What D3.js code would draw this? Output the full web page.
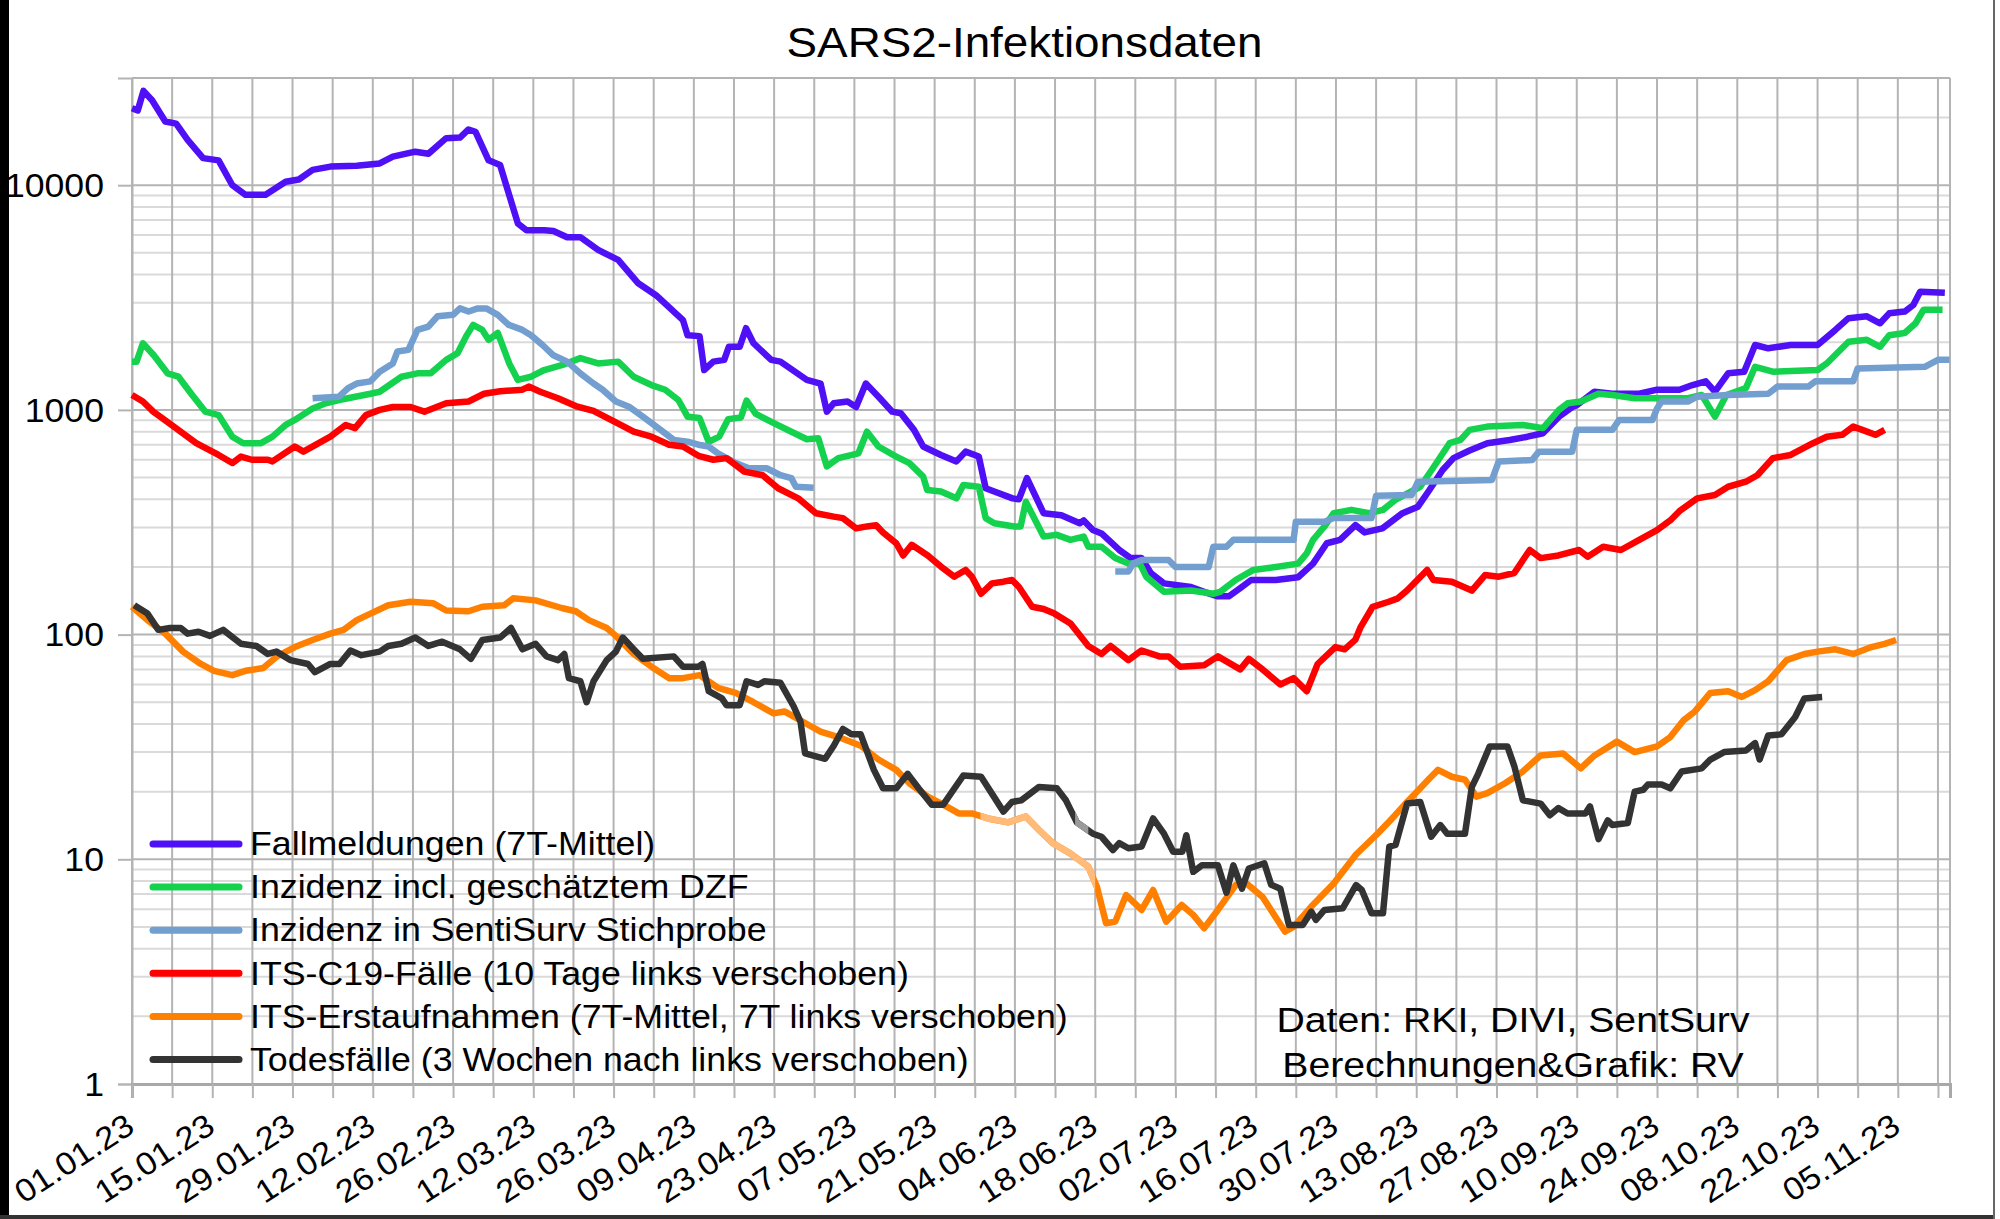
<!DOCTYPE html>
<html><head><meta charset="utf-8">
<script src="https://cdn.jsdelivr.net/npm/d3@7"></script>
<style>
body{margin:0;background:#fff}
svg{display:block}
text{font-family:"Liberation Sans",Arial,sans-serif;fill:#000}
</style>
</head><body>
<svg id="chart" width="2000" height="1219"></svg>
<script>
// ---------- DATA (day index from 01.01.23, value) ----------
const title = "SARS2-Infektionsdaten";
const seriesNames = [
  "Fallmeldungen (7T-Mittel)",
  "Inzidenz incl. geschätztem DZF",
  "Inzidenz in SentiSurv Stichprobe",
  "ITS-C19-Fälle (10 Tage links verschoben)",
  "ITS-Erstaufnahmen (7T-Mittel, 7T links verschoben)",
  "Todesfälle (3 Wochen nach links verschoben)"
];
const yTickValues = [1, 10, 100, 1000, 10000];
const xTickLabels = ["01.01.23","15.01.23","29.01.23","12.02.23","26.02.23","12.03.23","26.03.23","09.04.23","23.04.23","07.05.23","21.05.23","04.06.23","18.06.23","02.07.23","16.07.23","30.07.23","13.08.23","27.08.23","10.09.23","24.09.23","08.10.23","22.10.23","05.11.23"];
const sourceLines = ["Daten: RKI, DIVI, SentSurv", "Berechnungen&Grafik: RV"];

const fallmeldungen = [[0,22000],[1,21500],[2,26300],[3.5,23900],[5.8,19200],[7.7,18800],[9.7,15900],[12.4,13200],[15.1,12900],[17.5,10000],[19.8,9060],[23.3,9060],[26.8,10360],[29.1,10600],[31.5,11700],[34.6,12100],[39.2,12200],[43.2,12500],[45.5,13400],[49.4,14100],[51.7,13800],[54.8,16200],[57.2,16300],[58.7,17700],[59.9,17300],[62.2,12900],[64.2,12300],[67.3,6760],[68.8,6300],[71.9,6300],[73.5,6250],[75.9,5870],[78.2,5870],[81.3,5150],[84.8,4650],[88.3,3660],[91.4,3240],[96.1,2510],[96.9,2150],[99,2130],[99.8,1505],[101.4,1640],[103.3,1670],[104.1,1910],[106,1910],[107.1,2310],[108.4,1980],[111.5,1670],[113.1,1640],[117.7,1360],[120.1,1310],[121.2,982],[122.4,1070],[124.8,1090],[126.3,1030],[128,1310],[130.2,1145],[132.6,982],[134.1,966],[136.4,815],[138,687],[141.1,630],[143.8,590],[145.4,652],[147.7,620],[148.9,448],[150.4,433],[153.6,404],[154.7,400],[156.1,497],[159,347],[162.1,340],[165.3,313],[166,322],[167.6,292],[169.1,282],[172.2,238],[174.2,219],[176.1,219],[177.7,188],[180,169],[184.7,163],[187,155],[189.4,148],[191.3,148],[193.3,161],[195.2,175],[199.5,175],[203.4,180],[206,207],[208.4,255],[210.7,264],[213.4,307],[215,285],[218.1,297],[221.6,347],[224.3,371],[226.3,440],[228.6,540],[230.5,610],[233.3,660],[236.4,711],[240.3,735],[243.4,760],[246.1,787],[248.9,933],[251.2,1030],[252,1050],[255.1,1205],[258.2,1180],[262.9,1180],[266,1230],[269.9,1230],[272.2,1290],[274.5,1340],[276.1,1205],[278.4,1455],[281.2,1480],[283.1,1945],[285.4,1880],[289.3,1945],[294,1945],[297.1,2270],[299.4,2560],[302.6,2610],[304.9,2430],[306.5,2690],[309.2,2740],[310.7,2930],[311.9,3360],[316.2,3320]];

const inzidenzDZF = [[0,1640],[0.8,1640],[1.9,1980],[3.8,1750],[6.2,1455],[8.1,1405],[10.5,1165],[12.8,982],[15.1,948],[17.5,760],[19.4,711],[22.5,711],[24.5,760],[26.8,857],[28.4,902],[31.5,1015],[33.8,1070],[36.1,1107],[41.6,1180],[43.2,1205],[47,1405],[49.8,1455],[52.1,1455],[54.8,1670],[56.8,1790],[58.3,2130],[59.5,2390],[61.1,2270],[62.2,2050],[63.8,2200],[65.8,1610],[67.3,1360],[69.6,1405],[71.9,1505],[75.1,1585],[78.2,1700],[81.3,1610],[84.8,1640],[87.5,1405],[90.6,1290],[93,1230],[95.3,1107],[96.9,933],[99,920],[100.6,720],[102.4,760],[104,910],[106.2,925],[107.2,1100],[108.8,960],[112.3,865],[117.7,740],[119.7,748],[121.2,560],[123.2,610],[126.7,641],[128.2,800],[130.2,687],[133.3,620],[135.6,580],[138,505],[138.7,440],[141.1,433],[143.8,404],[145,463],[147.7,455],[148.9,330],[150.4,313],[153.9,303],[155,303],[155.9,390],[159,273],[161.3,278],[163.7,264],[166,273],[166.8,246],[169.1,246],[171.5,219],[173.8,207],[175.8,207],[176.9,181],[180,155],[184.7,157],[188.6,152],[189.8,155],[192.5,175],[195.6,194],[199.5,200],[203.4,207],[204.9,230],[206,264],[208,303],[209.6,347],[212.7,359],[215.8,347],[218.2,359],[220.5,400],[224.7,455],[227.1,560],[229.8,711],[231.7,735],[233.3,815],[236.4,843],[242.6,857],[246.1,830],[248.9,1000],[250.4,1070],[252.7,1090],[255.8,1180],[258.2,1165],[262.1,1127],[271.4,1127],[273.8,1165],[276.1,933],[278.1,1165],[281.5,1250],[283.1,1555],[286.2,1480],[294,1505],[295.6,1610],[299.4,2010],[302.6,2050],[304.9,1910],[306.5,2150],[309.2,2200],[311.1,2430],[312.5,2790],[315.8,2790]];

const sentiSurv = [[31.5,1127],[36.1,1145],[37.7,1250],[39.2,1310],[41.6,1340],[43.2,1480],[45.5,1610],[46.3,1820],[48.2,1850],[49.8,2270],[51.7,2350],[53.3,2610],[56,2650],[57.2,2830],[58.7,2740],[60.3,2830],[61.8,2830],[63.8,2650],[65.7,2390],[68.1,2270],[69.6,2150],[71.6,1945],[73.5,1750],[75.9,1640],[78.2,1455],[80.5,1310],[82.1,1230],[84.4,1090],[86.8,1030],[89.1,933],[92.2,815],[94.5,735],[96.9,722],[98.8,700],[100.6,687],[102.2,641],[105.3,580],[107.6,550],[110.7,550],[113.1,512],[115,497],[115.8,455],[118.9,450],
  [145, null],
  [171.5,191],[173.8,191],[174.6,207],[176.1,215],[180.8,215],[182,200],[187.8,200],[188.6,246],[190.9,246],[192.1,264],[202.6,264],[203,318],[208,318],[209.6,330],[216.2,330],[217,415],[223.2,418],[224.3,479],[237.2,488],[238.4,590],[244.2,598],[245.4,652],[251.2,652],[252,815],[258.2,815],[259.4,902],[265.2,902],[266,1015],[266.8,1090],[271.4,1090],[273,1145],[278.4,1165],[285.4,1180],[287,1270],[292.4,1270],[293.6,1340],[300.2,1340],[301,1530],[312.7,1555],[315,1670],[317,1670]];

const itsFaelle = [[0,1165],[1.9,1090],[3.7,982],[7.3,843],[11.2,711],[15.1,630],[17.5,580],[19,620],[20.9,600],[23.7,600],[24.5,590],[28.4,687],[29.9,652],[34.6,760],[37.3,857],[38.9,830],[40.8,948],[43.2,1000],[45.5,1030],[48.6,1030],[51,982],[54.8,1070],[58.7,1090],[61.4,1180],[64.2,1210],[68.1,1230],[69.2,1270],[71.2,1205],[74.3,1127],[77.4,1040],[80.5,990],[84.4,880],[87.5,800],[90.6,760],[93.7,700],[96.1,687],[98.8,625],[101.4,600],[103.7,610],[106.8,531],[110,512],[112.7,448],[116.2,404],[119.3,347],[122.4,335],[124,330],[126.3,297],[128.2,303],[129.8,307],[131,285],[133.3,255],[134.5,225],[136,251],[138.8,225],[141.5,197],[143.4,181],[145.4,194],[146.5,181],[148.1,152],[150,169],[152,172],[153.5,175],[154.7,163],[157,133],[159,130],[160.9,124],[163.7,112],[166.8,89],[169.1,82],[170.7,89],[173.8,77],[176.1,85],[179.2,80],[180.8,80],[182.8,72],[187,73],[189.4,80],[190.9,76],[193.3,70],[194.8,78],[197.2,70],[200.3,60],[202.6,64],[204.9,56],[206.8,74],[209.9,88],[211.5,86],[213.4,95],[214.3,108],[216.4,133],[219.2,140],[220.8,145],[222.4,157],[225.9,194],[227,175],[230.2,172],[233.7,157],[236,184],[238.4,181],[241.1,188],[243.8,238],[245.7,219],[248.8,225],[252.4,238],[253.9,222],[256.6,246],[259.7,238],[262.9,264],[266,292],[268.3,322],[269.9,354],[273,404],[276.1,418],[278.4,455],[281.5,479],[283.5,512],[286.2,610],[289.3,630],[293.2,711],[295.6,760],[298.3,775],[300.2,843],[301.8,815],[304.1,775],[305.7,815]];

const itsErstaufnahmen = [[0,133],[2.7,116],[5.8,101],[8.9,84],[12,74],[14.3,69],[17.5,66],[19.8,69],[22.9,71],[25.3,80],[28.4,88],[31.5,94.6],[34.6,101],[36.9,105],[39.2,116],[41.6,124],[44.7,135],[48.6,140],[52.5,138],[54.8,128],[58.7,127],[61.1,133],[64.9,135],[66.5,145],[70.4,142],[75.1,131],[77.4,127],[79.7,116],[82.8,107],[84.4,98.7],[87.5,82],[90.6,72],[93.7,64],[96.1,64],[99,66],[102.2,58],[105.3,55],[108.4,50],[111.9,44.6],[113.8,45.5],[117.7,40],[120.1,37],[123.2,35],[127.1,32],[130.2,27.8],[133.3,25],[135.6,21.8],[138.8,19],[141.5,17.5],[144.2,16],[146.5,16],[149.3,15.2],[152.8,14.6],[155.9,15.5],[158.2,13.5],[160.6,11.8],[163.7,10.6],[166.8,9.27],[168.3,7.55],[169.9,5.19],[171.5,5.28],[173.4,6.93],[176.1,5.95],[178.1,7.3],[180.4,5.28],[183.1,6.26],[185.1,5.66],[187,4.93],[189.4,5.95],[192.5,7.68],[194.4,7.8],[197.2,6.8],[201.1,4.77],[202.6,5.0],[205.7,6.16],[209.6,7.8],[213.5,10.5],[217.5,13.2],[220.2,15.6],[222.4,18],[224.7,20.7],[226.3,22.9],[227.8,25],[230.2,23.3],[232.5,22.6],[234.5,19],[236.4,19.7],[239.5,21.8],[242.6,24.6],[245.7,29],[249.6,29.6],[252.7,25.4],[255.1,29],[259,33.4],[262.1,30],[266,31.8],[268.3,35],[270.6,41.5],[272.6,45.5],[275.3,55],[278.4,56],[280.8,52.8],[283.1,56.6],[285.4,62],[288.6,77],[291.7,82],[294,84],[297.1,86],[300.2,82],[303.4,88],[305.7,91],[307.7,94.6]];

const todesfaelle = [[0.4,135],[2.7,124],[4.6,105],[6.6,107],[8.5,107],[9.7,101],[11.6,103],[13.6,98.7],[15.9,105],[19,91],[21.7,89],[23.7,82],[25.2,84],[27.6,77],[30.7,74],[31.9,68],[34.6,74],[36.2,74],[38.1,85],[40,81],[43.2,84],[44.7,89],[47,91],[49.4,97],[51.7,89],[54.1,93],[57.2,86],[59.1,78],[61.1,94.6],[64.2,97],[66.1,107],[68.1,86],[70.4,91],[72.3,80],[74.3,77],[75.4,82],[76.2,64],[78.2,62],[79.3,50],[80.5,62],[82.8,77],[84.4,84],[85.6,97],[87.5,86],[89.1,78],[94.5,80],[96.1,72],[98.8,72],[99.5,74],[100.6,56],[102.9,52],[103.7,48.5],[106,48.5],[107.2,62],[109.2,59.7],[110.3,62],[113.1,61],[115.4,48],[116.6,41],[117.4,29.6],[120.9,28],[122.4,32],[124,38],[125.5,36],[127.1,36],[129.4,25],[131,20.7],[133.3,20.7],[135.3,24],[137.2,20.7],[139.5,17.5],[141.5,17.5],[145,23.6],[148.1,23.3],[152,16.3],[153.5,18],[155.1,18.3],[158.2,21],[161.3,20.7],[162.9,18.3],[164.8,14.6],[167.6,13],[169.1,12.6],[171.1,11],[172.2,11.8],[173.8,11.2],[176.1,11.4],[178.1,15.2],[180,13],[181.6,10.8],[183.2,10.8],[183.9,12.8],[185.1,8.8],[186.6,9.4],[189.4,9.4],[190.9,7.1],[192.1,9.4],[193.6,7.4],[194.8,9.1],[197.5,9.6],[198.7,7.7],[200.3,7.4],[201.8,5.1],[204.2,5.1],[205.7,5.85],[206.5,5.38],[208,5.95],[211.2,6.06],[213.5,7.68],[214.5,7.3],[216.2,5.75],[218.2,5.75],[219.3,11.4],[220.4,11.6],[222.4,17.7],[224.7,18],[226.6,12.6],[228.2,14.2],[229.4,13],[232.5,13],[233.7,21],[234.8,24],[236.8,31.8],[239.9,31.8],[241.1,26],[242.6,18.3],[245.7,17.7],[247.3,15.7],[248.8,16.9],[250.4,16],[253.5,16],[254.3,17.2],[255.8,12.3],[257.4,14.9],[258.2,14.2],[260.9,14.5],[262.1,20],[263.6,20.4],[264.4,21.5],[266.8,21.5],[268.3,20.7],[270.3,24.6],[273.8,25.4],[275.3,27.8],[277.7,30],[281.5,30.5],[283.1,32.9],[283.9,27.8],[285.4,35.6],[287.7,36],[290.1,43],[291.7,52],[294.8,52.8]];

// day ranges where a series is drawn paler in the original
const orangeFaintRange = [148, 168];
const blackFaintRange = [164.5, 166.8];

// ---------- LAYOUT / STYLE ----------
const colors = ["#4f10f5", "#14d24e", "#729fcf", "#ff0000", "#ff8000", "#333333"];
const faintColors = {4: "#ffbb77", 5: "#9a9a9a"};
const seriesData = [fallmeldungen, inzidenzDZF, sentiSurv, itsFaelle, itsErstaufnahmen, todesfaelle];
const faintRanges = {4: orangeFaintRange, 5: blackFaintRange};

const P = {l: 132, r: 1950, t: 78, b: 1084};
const t0 = Date.UTC(2023, 0, 1);
const dayDate = d => new Date(t0 + d * 864e5);
const parseLbl = d3.utcParse("%d.%m.%y");

const x = d3.scaleUtc().domain([dayDate(0), dayDate(317.1)]).range([P.l, P.r]);
const y = d3.scaleLog().domain([1, 30000]).range([P.b, P.t]);

const svg = d3.select("#chart");
svg.append("rect").attr("width", 2000).attr("height", 1219).attr("fill", "#fff");

// grid
const grid = svg.append("g");
const minorVals = [];
for (let k = 0; k <= 4; k++) for (let m = 2; m <= 9; m++) { const v = m * Math.pow(10, k); if (v < 30000) minorVals.push(v); }
grid.selectAll(".minor").data(minorVals).join("line")
  .attr("x1", P.l).attr("x2", P.r).attr("y1", d => y(d)).attr("y2", d => y(d))
  .attr("stroke", "#dadada").attr("stroke-width", 2);
const weekDates = d3.range(0, 318, 7).map(dayDate);
grid.selectAll(".vline").data(weekDates).join("line")
  .attr("x1", d => x(d)).attr("x2", d => x(d)).attr("y1", P.t).attr("y2", P.b)
  .attr("stroke", "#b4b4b4").attr("stroke-width", 2);
grid.selectAll(".major").data(yTickValues.concat([30000])).join("line")
  .attr("x1", P.l).attr("x2", P.r).attr("y1", d => y(d)).attr("y2", d => y(d))
  .attr("stroke", "#b4b4b4").attr("stroke-width", 2);
grid.append("line").attr("x1", P.r).attr("x2", P.r).attr("y1", P.t).attr("y2", P.b)
  .attr("stroke", "#b4b4b4").attr("stroke-width", 2);

// axes
const yAxis = d3.axisLeft(y).tickValues(yTickValues).tickFormat(d3.format("d")).tickSize(14).tickPadding(0);
const gy = svg.append("g").attr("transform", `translate(${P.l},0)`).call(yAxis);
gy.select(".domain").attr("stroke", "#b4b4b4").attr("stroke-width", 2);
gy.selectAll(".tick line").attr("stroke", "#b4b4b4").attr("stroke-width", 2);
gy.selectAll(".tick text").attr("x", null).attr("dy", null)
  .attr("transform", "translate(-28,11.3) scale(1.08,1)")
  .attr("font-size", 33).attr("fill", "#000").attr("text-anchor", "end");

const labelDates = xTickLabels.map(parseLbl);
const labelMap = new Map(labelDates.map((d, i) => [+d, xTickLabels[i]]));
const xAxis = d3.axisBottom(x).tickValues(weekDates).tickSize(14)
  .tickFormat(d => labelMap.get(+d) || "");
const gx = svg.append("g").attr("transform", `translate(0,${P.b})`).call(xAxis);
gx.select(".domain").attr("stroke", "#a8a8a8").attr("stroke-width", 3);
gx.selectAll(".tick line").attr("stroke", "#b4b4b4").attr("stroke-width", 2);
gx.selectAll(".tick text").attr("y", null).attr("dy", null)
  .attr("transform", "translate(4,47) rotate(-33) scale(1.08,1)")
  .attr("text-anchor", "end").attr("font-size", 32).attr("fill", "#000");

// lines
const line = d3.line()
  .defined(d => d[1] != null)
  .x(d => x(dayDate(d[0]))).y(d => y(d[1]));
const defs = svg.append("defs");
const plot = svg.append("g");
seriesData.forEach((data, i) => {
  plot.append("path").datum(data).attr("d", line)
    .attr("fill", "none").attr("stroke", colors[i]).attr("stroke-width", 6.5)
    .attr("stroke-linejoin", "round").attr("stroke-linecap", "butt");
  if (faintRanges[i]) {
    const r = faintRanges[i];
    const id = "clip" + i;
    defs.append("clipPath").attr("id", id).append("rect")
      .attr("x", x(dayDate(r[0]))).attr("width", x(dayDate(r[1])) - x(dayDate(r[0])))
      .attr("y", P.t).attr("height", P.b - P.t);
    plot.append("path").datum(data).attr("d", line).attr("clip-path", `url(#${id})`)
      .attr("fill", "none").attr("stroke", faintColors[i]).attr("stroke-width", 6.5)
      .attr("stroke-linejoin", "round");
  }
});

// legend
const lg = svg.append("g");
seriesNames.forEach((name, i) => {
  const yy = 844 + i * 43.1;
  lg.append("line").attr("x1", 153).attr("x2", 239).attr("y1", yy).attr("y2", yy)
    .attr("stroke", colors[i]).attr("stroke-width", 7).attr("stroke-linecap", "round");
  lg.append("text").attr("transform", `translate(250,${yy + 11.2}) scale(1.1,1)`)
    .attr("font-size", 32.5).text(name);
});

// source note
sourceLines.forEach((t, i) => {
  svg.append("text").attr("transform", `translate(1513,${1031.7 + i * 45}) scale(1.09,1)`)
    .attr("text-anchor", "middle").attr("font-size", 36).text(t);
});

// title
svg.append("text").attr("transform", "translate(1024.5,56.7) scale(1.065,1)")
  .attr("text-anchor", "middle").attr("font-size", 43).text(title);

// outer frame
svg.append("rect").attr("x", 0).attr("y", 0).attr("width", 9).attr("height", 1219).attr("fill", "#000");
svg.append("rect").attr("x", 0).attr("y", 1215).attr("width", 1995).attr("height", 4).attr("fill", "#333");
svg.append("rect").attr("x", 1993).attr("y", 0).attr("width", 2).attr("height", 1219).attr("fill", "#666");
</script>
</body></html>
